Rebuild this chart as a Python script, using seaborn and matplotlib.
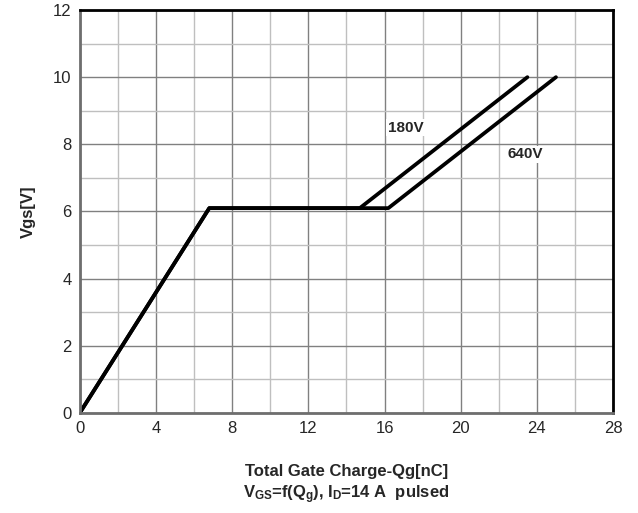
import numpy as np
import pandas as pd
import seaborn as sns
import matplotlib.pyplot as plt
from matplotlib.ticker import MultipleLocator

# gate charge curves
qg_180 = [0.0, 6.8, 14.7, 23.5]
vgs_180 = [0.0, 6.1, 6.1, 10.0]
qg_640 = [0.0, 6.8, 16.2, 25.0]
vgs_640 = [0.0, 6.1, 6.1, 10.0]

x_ticks = [0, 4, 8, 12, 16, 20, 24, 28]
y_ticks = [0, 2, 4, 6, 8, 10, 12]

sns.set_style('white')
plt.rcParams['font.family'] = ['Liberation Sans', 'DejaVu Sans']
plt.rcParams['mathtext.fontset'] = 'custom'
plt.rcParams['mathtext.rm'] = 'Liberation Sans:bold'
plt.rcParams['mathtext.it'] = 'Liberation Sans:bold'
plt.rcParams['mathtext.bf'] = 'Liberation Sans:bold'

df = pd.concat([
    pd.DataFrame({'Qg': qg_180, 'Vgs': vgs_180, 'Vds': '180V'}),
    pd.DataFrame({'Qg': qg_640, 'Vgs': vgs_640, 'Vds': '640V'}),
])

fig = plt.figure(figsize=(6.38, 5.13), dpi=100)
ax = fig.add_axes([0.125, 0.195, 0.836, 0.7855])

sns.lineplot(data=df, x='Qg', y='Vgs', units='Vds', estimator=None, sort=False,
             color='black', linewidth=2.7, ax=ax, legend=False)

ax.set_xlim(0, 28)
ax.set_ylim(0, 12)
ax.set_xticks(x_ticks)
ax.set_yticks(y_ticks)
ax.xaxis.set_minor_locator(MultipleLocator(2))
ax.yaxis.set_minor_locator(MultipleLocator(1))
ax.grid(which='major', color='#808080', linewidth=1.0)
ax.grid(which='minor', color='#bfbfbf', linewidth=1.0)
ax.set_axisbelow(True)
ax.tick_params(which='both', length=0, labelsize=12, pad=6)

for side in ['top', 'right']:
    ax.spines[side].set_color('black')
    ax.spines[side].set_linewidth(2)
for side in ['left', 'bottom']:
    ax.spines[side].set_color('#6e6e6e')
    ax.spines[side].set_linewidth(2)

ax.text(17.1, 8.5, '180V', fontsize=11, fontweight='bold', ha='center', va='center',
        bbox=dict(facecolor='white', edgecolor='none', pad=1))
ax.text(23.4, 7.7, '640V', fontsize=11, fontweight='bold', ha='center', va='center',
        bbox=dict(facecolor='white', edgecolor='none', pad=1))

ax.set_ylabel('Vgs[V]', fontsize=12, fontweight='bold', labelpad=12)
ax.set_xlabel('Total Gate Charge-Qg[nC]\n$V_{GS}$=f($Q_g$), $I_D$=14 A  pulsed',
              fontsize=12, fontweight='bold', labelpad=20, linespacing=1.3)

fig.savefig('out.png', dpi=100)
